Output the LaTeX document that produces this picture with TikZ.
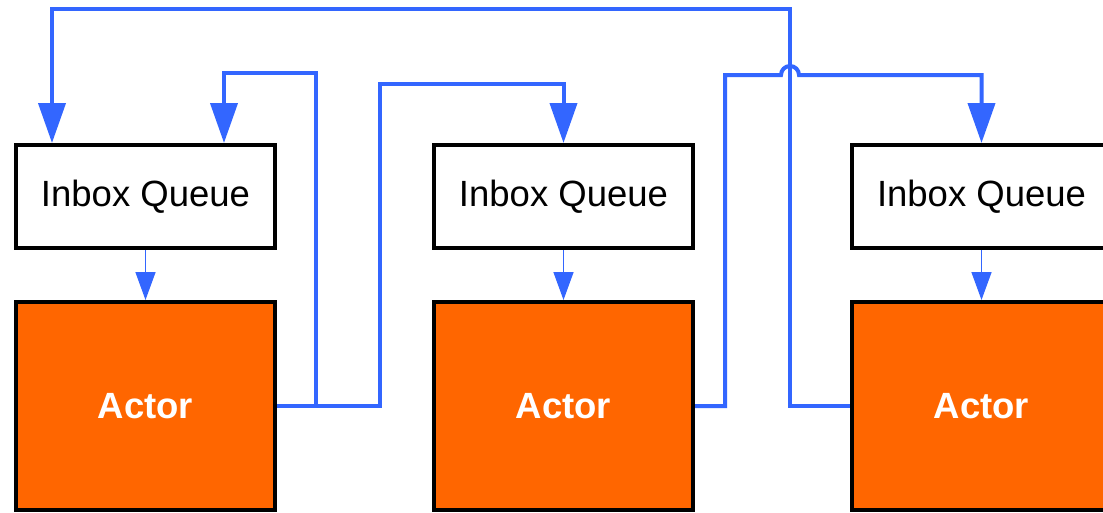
\documentclass[tikz,border=0pt]{standalone}
\usepackage{fontspec}
\setmainfont{Liberation Sans}
\usetikzlibrary{arrows.meta}
\definecolor{linkblue}{HTML}{3366FF}
\definecolor{actororange}{HTML}{FF6600}
\tikzset{
  queuebox/.style={draw=black, fill=white, line width=4pt, minimum width=259pt, minimum height=103pt,
    inner sep=0pt, font=\fontsize{36.5}{40}\selectfont},
  actorbox/.style={draw=black, fill=actororange, line width=4pt, minimum width=259pt, minimum height=208pt,
    inner sep=0pt, text=white, font=\fontsize{36.5}{40}\selectfont\bfseries},
  bigarrow/.style={draw=linkblue, line width=4pt, -{Triangle[width=27pt,length=40pt]}},
  biglink/.style={draw=linkblue, line width=4pt},
  smallarrow/.style={draw=linkblue, line width=1.5pt, -{Triangle[width=20pt,length=28pt]}}
}
\begin{document}
\begin{tikzpicture}[x=1pt, y=-1pt]
\useasboundingbox (0,0) rectangle (1103,512);
\clip (0,0) rectangle (1103,512);
\fill[white] (0,0) rectangle (1103,512);

\node[queuebox] (q1) at (145.5,196.5) {Inbox Queue};
\node[queuebox] (q2) at (563.5,196.5) {Inbox Queue};
\node[queuebox] (q3) at (981.5,196.5) {Inbox Queue};

\node[actorbox] (a1) at (145.5,406) {Actor};
\node[actorbox] (a2) at (563.5,406) {Actor};
\node[actorbox] (a3) at (981.5,406) {Actor};

\draw[smallarrow] (q1.south) -- (a1.north);
\draw[smallarrow] (q2.south) -- (a2.north);
\draw[smallarrow] (q3.south) -- (a3.north);

% actor 3 -> queue 1 (outer loop)
\draw[bigarrow] (a3.west) -| (790,9) -| ([xshift=38pt]q1.north west);
% actor 1 -> queue 1
\draw[bigarrow] (a1.east) -| (316,73) -| ([xshift=210pt]q1.north west);
% actor 1 -> queue 2
\draw[bigarrow] (a1.east) -| (380,84) -| (q2.north);
% actor 2 -> queue 3 with hop over the outer loop
\draw[bigarrow] (a2.east) -| (725,75) -- (781,75) arc (180:360:9) -| (q3.north);
\end{tikzpicture}
\end{document}
